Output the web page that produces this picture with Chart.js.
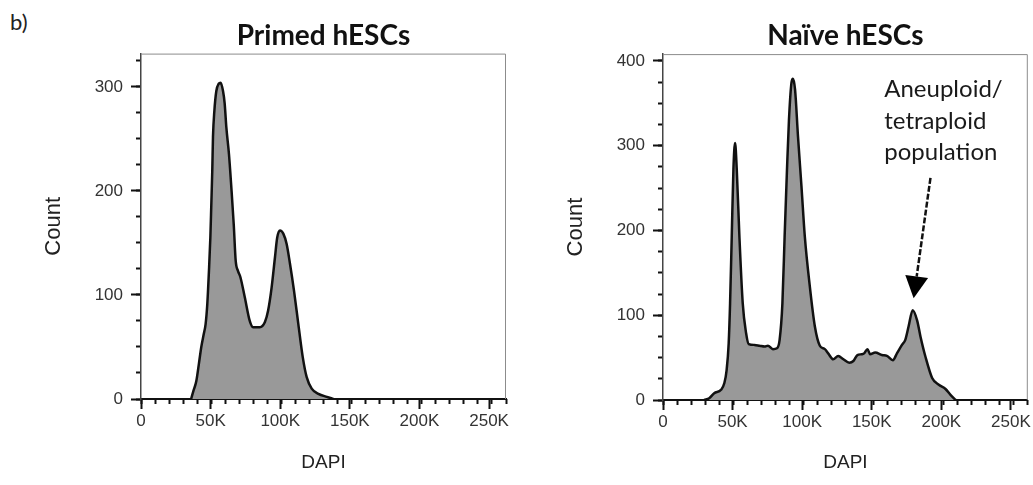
<!DOCTYPE html>
<html>
<head>
<meta charset="utf-8">
<title>DAPI cell cycle profiles</title>
<script src="https://cdn.jsdelivr.net/npm/chart.js@4.4.1/dist/chart.umd.min.js"></script>
<style>
  html, body { margin: 0; padding: 0; background: #fff; }
  body { position: relative; width: 1033px; height: 485px; overflow: hidden; }
  canvas { position: absolute; top: 0; }
  #primedChart { left: 0; }
  #naiveChart { left: 520px; }
  #panelTag { position: absolute; left: 10px; top: 8px; font: 22px Lato, sans-serif; color: #222; }
</style>
</head>
<body>
<div id="panelTag">b)</div>
<canvas id="primedChart" width="520" height="485"></canvas>
<canvas id="naiveChart" width="513" height="485"></canvas>

<script>
// Primed hESCs — DAPI intensity vs event count
const primedDapi = [36000, 37700, 39700, 41600, 43300, 45000, 46400, 47600, 48800, 49800, 50500, 51200, 51700, 52700, 54100, 55800, 57200, 58900, 60100, 61300, 63200, 64900, 66600, 68000, 69700, 71400, 74500, 78100, 80500, 85300, 89000, 91300, 93800, 96200, 97800, 99800, 102200, 104600, 107000, 109900, 113000, 116200, 119000, 122600, 127400, 133500, 138200];
const primedCount = [0, 8, 17, 34, 50, 62, 72, 91, 123, 155, 187, 220, 252, 277, 296, 303, 304, 296, 284, 261, 235, 203, 168, 133, 123, 117, 98, 75, 69, 69, 74, 85, 107, 136, 155, 162, 159, 149, 130, 104, 72, 40, 21, 10, 5, 2, 0];

// Naive hESCs
const naiveDapi = [29600, 33200, 36800, 41700, 44100, 45700, 47200, 48200, 49400, 50600, 51800, 53000, 54900, 57300, 59700, 61600, 65800, 69400, 73000, 75400, 79000, 81900, 83800, 85800, 87400, 89100, 90500, 92300, 93400, 94900, 97000, 99500, 101900, 105500, 109100, 112700, 116300, 118700, 122300, 125900, 129600, 133900, 136800, 139700, 142800, 144500, 146900, 148800, 152500, 157300, 160900, 165200, 168100, 171700, 174100, 176500, 179400, 182600, 185000, 188600, 193400, 198200, 203000, 206600, 210300];
const naiveCount = [0, 2, 8, 12, 20, 35, 67, 114, 193, 272, 303, 272, 193, 114, 79, 66, 65, 64, 63, 64, 60, 61, 71, 114, 193, 272, 330, 374, 379, 366, 311, 252, 193, 134, 87, 64, 60, 55, 48, 52, 48, 44, 46, 53, 54, 55, 60, 54, 56, 53, 52, 47, 55, 65, 71, 87, 106, 94, 75, 51, 26, 18, 13, 6, 0];

// axis ticks
const dapiTicks = [0, 50000, 100000, 150000, 200000, 250000];
const primedCountTicks = [0, 100, 200, 300];
const naiveCountTicks = [0, 100, 200, 300, 400];
const DAPI_MAX = 262144;

// callout on the naive panel
const noteLines = ['Aneuploid/', 'tetraploid', 'population'];
const noteAnchor = { x: 159000, y: 366 };
const arrowFrom = { x: 192200, y: 262 };
const arrowTo = { x: 180100, y: 120 };

const sansFont = "'Liberation Sans', Arial, sans-serif";
const tickFont = { family: sansFont, size: 17 };

function dapiLabel(v) {
    return v === 0 ? '0' : (v / 1000) + 'K';
}

// thin grey frame on the open sides of the plot box
const framePlugin = {
    id: 'frame',
    afterDraw(chart) {
        const { ctx, chartArea: a } = chart;
        ctx.save();
        ctx.strokeStyle = '#8c8c8c';
        ctx.lineWidth = 1;
        ctx.beginPath();
        ctx.moveTo(a.left, a.top + 0.5);
        ctx.lineTo(a.right - 0.5, a.top + 0.5);
        ctx.lineTo(a.right - 0.5, a.bottom);
        ctx.stroke();
        ctx.restore();
    }
};

function buildChart(canvasId, opts) {
    const points = opts.dapi.map((x, i) => ({ x, y: opts.counts[i] }));
    return new Chart(document.getElementById(canvasId), {
        type: 'line',
        data: {
            datasets: [{
                data: points,
                borderColor: '#111',
                borderWidth: 2.5,
                backgroundColor: '#999999',
                fill: 'origin',
                cubicInterpolationMode: 'monotone',
                pointRadius: 0
            }]
        },
        options: {
            responsive: false,
            animation: false,
            layout: { padding: { top: opts.padTop, right: opts.padRight, left: 0, bottom: 0 } },
            plugins: {
                legend: { display: false },
                tooltip: { enabled: false },
                title: {
                    display: true,
                    text: opts.title,
                    fullSize: false,
                    color: '#111',
                    font: { family: 'Lato, sans-serif', size: 28, weight: 'bold' },
                    padding: { top: 11, bottom: 1 }
                }
            },
            scales: {
                x: {
                    type: 'linear',
                    position: 'bottom',
                    weight: 1,
                    min: 0,
                    max: DAPI_MAX,
                    afterBuildTicks: s => { s.ticks = dapiTicks.map(v => ({ value: v })); },
                    afterFit: s => { s.height = opts.xHeight; },
                    ticks: { autoSkip: false, maxRotation: 0, padding: 2, color: '#333', font: tickFont, callback: dapiLabel },
                    grid: { drawOnChartArea: false, tickLength: 10, tickWidth: 2, tickColor: '#111' },
                    border: { display: true, color: '#111', width: 2 },
                    title: {
                        display: true, text: 'DAPI', color: '#222',
                        font: { family: sansFont, size: 19 },
                        padding: { top: 0, bottom: 10.6 }
                    }
                },
                xMinor: {
                    type: 'linear',
                    position: 'bottom',
                    weight: 0,
                    min: 0,
                    max: DAPI_MAX,
                    ticks: { stepSize: 10000, includeBounds: false, display: false },
                    afterFit: s => { s.height = 0; },
                    grid: { drawOnChartArea: false, tickLength: 5, tickWidth: 2, tickColor: '#111' },
                    border: { display: false }
                },
                y: {
                    type: 'linear',
                    position: 'left',
                    weight: 1,
                    min: 0,
                    max: opts.yMax,
                    afterBuildTicks: s => { s.ticks = opts.yTicks.map(v => ({ value: v })); },
                    afterFit: s => { s.width = opts.yWidth; },
                    ticks: { padding: 8, color: '#333', font: tickFont },
                    grid: { drawOnChartArea: false, tickLength: 10, tickWidth: 2, tickColor: '#111' },
                    border: { display: true, color: '#444', width: 1.5 },
                    title: {
                        display: true, text: 'Count', color: '#222',
                        font: { family: sansFont, size: 22 },
                        padding: { top: opts.yTitlePad, bottom: 0 }
                    }
                },
                yMinor: {
                    type: 'linear',
                    position: 'left',
                    weight: 0,
                    min: 0,
                    max: opts.yMax,
                    ticks: { stepSize: 25, includeBounds: false, display: false },
                    afterFit: s => { s.width = 0; },
                    grid: { drawOnChartArea: false, tickLength: 5, tickWidth: 2, tickColor: '#111' },
                    border: { display: false }
                }
            }
        },
        plugins: [framePlugin].concat(opts.extraPlugins || [])
    });
}

// text block + dashed arrow pointing at the 4n peak
const calloutPlugin = {
    id: 'callout',
    afterDraw(chart) {
        const { ctx } = chart;
        const xs = chart.scales.x, ys = chart.scales.y;
        ctx.save();
        ctx.fillStyle = '#1a1a1a';
        ctx.font = '24px Lato, sans-serif';
        ctx.textAlign = 'left';
        ctx.textBaseline = 'middle';
        const tx = xs.getPixelForValue(noteAnchor.x);
        const ty = ys.getPixelForValue(noteAnchor.y);
        noteLines.forEach((line, i) => ctx.fillText(line, tx, ty + i * 31.5));

        const x0 = xs.getPixelForValue(arrowFrom.x), y0 = ys.getPixelForValue(arrowFrom.y);
        const x1 = xs.getPixelForValue(arrowTo.x), y1 = ys.getPixelForValue(arrowTo.y);
        const ang = Math.atan2(y1 - y0, x1 - x0);
        const headLen = 22, headHalf = 11.5;
        const bx = x1 - headLen * Math.cos(ang), by = y1 - headLen * Math.sin(ang);

        ctx.strokeStyle = '#111';
        ctx.lineWidth = 2.5;
        ctx.setLineDash([6, 2]);
        ctx.beginPath();
        ctx.moveTo(x0, y0);
        ctx.lineTo(bx, by);
        ctx.stroke();
        ctx.setLineDash([]);

        ctx.fillStyle = '#000';
        ctx.beginPath();
        ctx.moveTo(x1, y1);
        ctx.lineTo(bx + headHalf * Math.sin(ang), by - headHalf * Math.cos(ang));
        ctx.lineTo(bx - headHalf * Math.sin(ang), by + headHalf * Math.cos(ang));
        ctx.closePath();
        ctx.fill();
        ctx.restore();
    }
};

buildChart('primedChart', {
    title: 'Primed hESCs',
    dapi: primedDapi,
    counts: primedCount,
    yTicks: primedCountTicks,
    yMax: 332,
    padTop: 8,
    padRight: 14,
    yWidth: 141,
    xHeight: 86,
    yTitlePad: 40.8
});

buildChart('naiveChart', {
    title: 'Naïve hESCs',
    dapi: naiveDapi,
    counts: naiveCount,
    yTicks: naiveCountTicks,
    yMax: 408,
    padTop: 8.5,
    padRight: 5,
    yWidth: 143,
    xHeight: 85,
    yTitlePad: 42.3,
    extraPlugins: [calloutPlugin]
});
</script>
</body>
</html>
